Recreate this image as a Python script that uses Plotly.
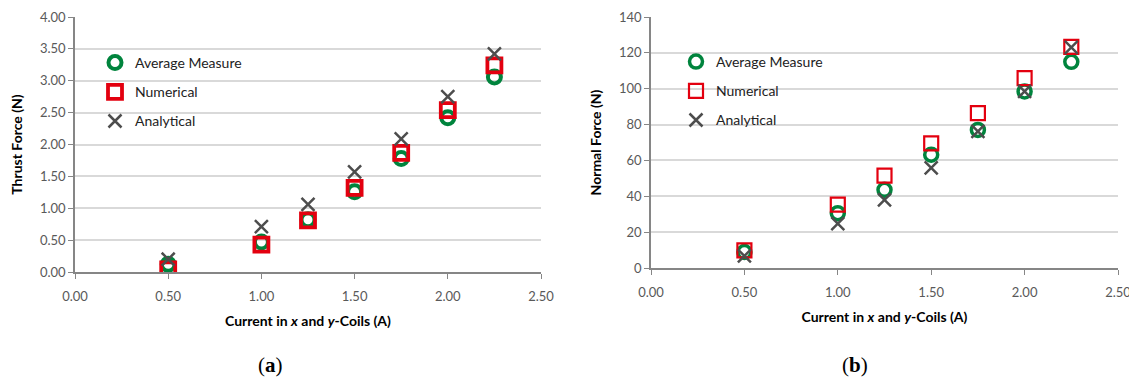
import plotly.graph_objects as go

# Data
current = [0.50, 1.00, 1.25, 1.50, 1.75, 2.00, 2.25]
thrust_avg = [0.12, 0.47, 0.82, 1.26, 1.78, 2.42, 3.06]
thrust_num = [0.04, 0.43, 0.81, 1.32, 1.87, 2.54, 3.24]
thrust_ana = [0.20, 0.71, 1.06, 1.57, 2.09, 2.75, 3.42]
normal_avg = [8.9, 30.6, 43.6, 63.2, 77.0, 98.5, 115.0]
normal_num = [9.8, 35.4, 51.5, 69.5, 86.4, 105.9, 123.3]
normal_ana = [6.7, 24.7, 38.0, 55.8, 76.2, 98.5, 123.0]
series_names = ["Average Measure", "Numerical", "Analytical"]

# page body has an 8px margin; figure sized to reach the window's edges
OFF = 8
FW, FH = 1137 - OFF, 383 - OFF
def px(v):
    return (v - OFF) / FW
def py(v):
    return 1 - (v - OFF) / FH

FONT = "Lato"
GREEN = "#00843d"
RED = "#e3000f"
GRAY = "#4d4d4d"

fig = go.Figure()

def add_series(xa, ya, legend, ys, sq_w, circ_w):
    styles = [
        dict(symbol="circle-open", size=13, color=GREEN, line=dict(width=circ_w, color=GREEN)),
        dict(symbol="square-open", size=14, color=RED, line=dict(width=sq_w, color=RED)),
        dict(symbol="x-thin-open", size=13, color=GRAY, line=dict(width=2.5, color=GRAY)),
    ]
    for name, y, st in zip(series_names, ys, styles):
        fig.add_trace(go.Scatter(
            x=current, y=y, mode="markers", name=name,
            marker=st, xaxis=xa, yaxis=ya, legend=legend,
            legendgroup=legend + name, showlegend=True,
        ))

add_series("x", "y", "legend", [thrust_avg, thrust_num, thrust_ana], 3.8, 4)
add_series("x2", "y2", "legend2", [normal_avg, normal_num, normal_ana], 2.2, 3.5)

tickfont = dict(family=FONT, size=13, color="#595959")
titlefont = dict(family=FONT, size=14, color="#000000")
xtitle = "<b>Current in <i>x</i> and <i>y</i>-Coils (A)</b>"

xcommon = dict(range=[0, 2.5], dtick=0.5, tickformat=".2f", showgrid=False,
               showline=True, linecolor="#868686", linewidth=1.5,
               ticks="outside", ticklen=5, tickcolor="#868686", tickfont=tickfont,
               ticklabelstandoff=7, ticklabeloverflow="allow",
               zeroline=False, automargin=False,
               title=dict(text=xtitle, font=titlefont, standoff=13))
ycommon = dict(showgrid=True, gridcolor="#d9d9d9", gridwidth=1.5,
               showline=True, linecolor="#868686", linewidth=1.5,
               ticks="outside", ticklen=5, tickcolor="#868686", tickfont=tickfont,
               zeroline=False, automargin=False)
legfont = dict(family=FONT, size=14, color="#222222")

fig.update_layout(
    width=FW, height=FH,
    margin=dict(l=0, r=0, t=0, b=0, autoexpand=False),
    plot_bgcolor="white", paper_bgcolor="white",
    xaxis=dict(domain=[px(75), px(541)], anchor="y", **xcommon),
    yaxis=dict(domain=[py(272), py(17)], anchor="x", range=[0, 4], dtick=0.5,
               tickformat=".2f", title=dict(text="<b>Thrust Force (N)</b>", font=titlefont, standoff=21),
               **ycommon),
    xaxis2=dict(domain=[px(651), px(1118)], anchor="y2", **xcommon),
    yaxis2=dict(domain=[py(268), py(17)], anchor="x2", range=[0, 140], dtick=20,
                title=dict(text="<b>Normal Force (N)</b>", font=titlefont, standoff=14),
                **ycommon),
    legend=dict(x=px(95), y=py(47), xanchor="left", yanchor="top",
                bgcolor="rgba(0,0,0,0)", font=legfont,
                tracegroupgap=8, itemwidth=30),
    legend2=dict(x=px(676), y=py(46), xanchor="left", yanchor="top",
                 bgcolor="rgba(0,0,0,0)", font=legfont,
                 tracegroupgap=8, itemwidth=30),
    showlegend=True,
)

fig.add_annotation(text="(<b>a</b>)", x=px(270), y=py(365), xref="paper", yref="paper",
                   xanchor="center", yanchor="middle",
                   showarrow=False, font=dict(family="Liberation Serif", size=21, color="#000000"))
fig.add_annotation(text="(<b>b</b>)", x=px(855), y=py(365), xref="paper", yref="paper",
                   xanchor="center", yanchor="middle",
                   showarrow=False, font=dict(family="Liberation Serif", size=21, color="#000000"))

fig.write_html("out.html")
